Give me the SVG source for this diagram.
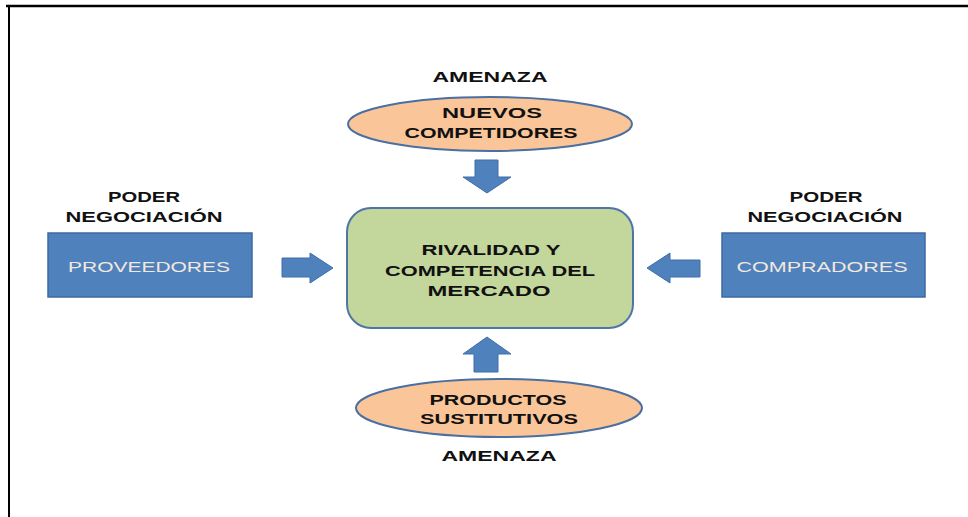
<svg xmlns="http://www.w3.org/2000/svg" width="968" height="517" viewBox="0 0 968 517">
<style>
.lbl{font-family:"Liberation Sans",Arial,sans-serif;font-weight:bold;font-size:15px;fill:#111;text-anchor:middle}
.box{fill:#4F81BD;stroke:#3C6AA3;stroke-width:1.5}
.boxt{font-family:"Liberation Sans",Arial,sans-serif;font-size:15px;fill:#F3E8DE;text-anchor:middle}
.ell{fill:#FAC699;stroke:#4A6FA0;stroke-width:2}
.arr{fill:#4F81BD;stroke:#3F6FA8;stroke-width:1}
</style>
<rect x="0" y="0" width="968" height="517" fill="#ffffff"/>
<g id="frame">
<line x1="6" y1="6" x2="968" y2="6" stroke="#000" stroke-width="2.5"/>
<line x1="9" y1="5" x2="9" y2="517" stroke="#000" stroke-width="2"/>
</g>
<g id="center">
<rect x="347" y="208" width="286" height="120" rx="24" ry="24" fill="#C3D69B" stroke="#4F74A5" stroke-width="2"/>
<text class="lbl" x="491" y="255" textLength="139" lengthAdjust="spacingAndGlyphs">RIVALIDAD Y</text>
<text class="lbl" x="490" y="276" textLength="210" lengthAdjust="spacingAndGlyphs">COMPETENCIA DEL</text>
<text class="lbl" x="489" y="296" textLength="123" lengthAdjust="spacingAndGlyphs">MERCADO</text>
</g>
<g id="nuevos">
<text class="lbl" x="490" y="82" textLength="115" lengthAdjust="spacingAndGlyphs">AMENAZA</text>
<ellipse class="ell" cx="490" cy="124" rx="142" ry="27"/>
<text class="lbl" x="492" y="118" textLength="100" lengthAdjust="spacingAndGlyphs">NUEVOS</text>
<text class="lbl" x="491" y="138" textLength="173" lengthAdjust="spacingAndGlyphs">COMPETIDORES</text>
</g>
<g id="sustitutos">
<ellipse class="ell" cx="499" cy="408" rx="143" ry="29"/>
<text class="lbl" x="498" y="405" textLength="137" lengthAdjust="spacingAndGlyphs">PRODUCTOS</text>
<text class="lbl" x="499" y="424" textLength="158" lengthAdjust="spacingAndGlyphs">SUSTITUTIVOS</text>
<text class="lbl" x="499" y="461" textLength="115" lengthAdjust="spacingAndGlyphs">AMENAZA</text>
</g>
<g id="proveedores">
<text class="lbl" x="144" y="202" textLength="72" lengthAdjust="spacingAndGlyphs">PODER</text>
<text class="lbl" x="144" y="222" textLength="157" lengthAdjust="spacingAndGlyphs">NEGOCIACIÓN</text>
<rect class="box" x="48" y="233" width="204" height="64"/>
<text class="boxt" x="149" y="272" textLength="162" lengthAdjust="spacingAndGlyphs">PROVEEDORES</text>
</g>
<g id="compradores">
<text class="lbl" x="826" y="202" textLength="73" lengthAdjust="spacingAndGlyphs">PODER</text>
<text class="lbl" x="825" y="222" textLength="155" lengthAdjust="spacingAndGlyphs">NEGOCIACIÓN</text>
<rect class="box" x="722" y="233" width="203" height="64"/>
<text class="boxt" x="822" y="272" textLength="171" lengthAdjust="spacingAndGlyphs">COMPRADORES</text>
</g>
<g id="connectors">
<polygon class="arr" points="475,160 498,160 498,177 511,177 487,193 463,177 475,177"/>
<polygon class="arr" points="474,372 498,372 498,354 511,354 487,337 463,354 474,354"/>
<polygon class="arr" points="282,258 310,258 310,253 333,268 310,283 310,277 282,277"/>
<polygon class="arr" points="700,260 670,260 670,253 647,268 670,283 670,277 700,277"/>
</g>
</svg>
